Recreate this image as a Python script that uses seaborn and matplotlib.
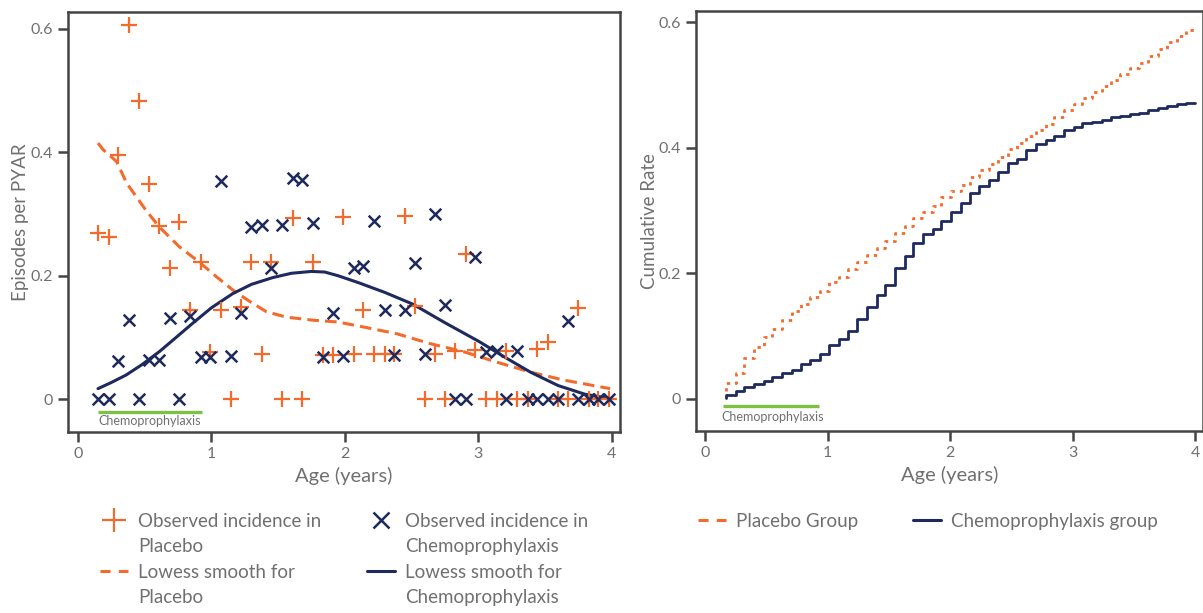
import pandas as pd
import seaborn as sns
import matplotlib.pyplot as plt
from matplotlib.lines import Line2D

# --- values ---

# left panel: observed incidence per 4-week age band
age = [0.15, 0.23, 0.30, 0.38, 0.46, 0.53, 0.61, 0.69, 0.76, 0.84,
       0.92, 0.99, 1.07, 1.15, 1.22, 1.30, 1.38, 1.45, 1.53, 1.61,
       1.68, 1.76, 1.84, 1.91, 1.99, 2.07, 2.14, 2.22, 2.30, 2.37,
       2.45, 2.53, 2.60, 2.68, 2.75, 2.83, 2.91, 2.98, 3.06, 3.14,
       3.21, 3.29, 3.37, 3.44, 3.52, 3.60, 3.67, 3.75, 3.83, 3.90, 3.98]

placebo_obs = [0.270, 0.262, 0.395, 0.607, 0.483, 0.349, 0.280, 0.212, 0.287, 0.145,
               0.222, 0.076, 0.144, 0.0, 0.149, 0.222, 0.073, 0.222, 0.0, 0.293,
               0.0, 0.222, 0.072, 0.072, 0.296, 0.073, 0.145, 0.073, 0.073, 0.073,
               0.297, 0.151, 0.0, 0.073, 0.0, 0.078, 0.235, 0.079, 0.0, 0.0,
               0.078, 0.0, 0.0, 0.082, 0.093, 0.0, 0.0, 0.147, 0.0, 0.0, 0.0]

chemo_obs = [0.0, 0.0, 0.062, 0.128, 0.0, 0.064, 0.064, 0.132, 0.0, 0.135,
             0.069, 0.069, 0.353, 0.070, 0.139, 0.279, 0.283, 0.212, 0.283, 0.358,
             0.355, 0.285, 0.069, 0.140, 0.070, 0.213, 0.215, 0.289, 0.144, 0.071,
             0.144, 0.221, 0.073, 0.300, 0.152, 0.0, 0.0, 0.230, 0.077, 0.078,
             0.0, 0.078, 0.0, 0.0, 0.0, 0.0, 0.126, 0.0, 0.0, 0.0, 0.0]

# lowess curves
lowess_placebo_x = [0.15, 0.19, 0.29, 0.365, 0.51, 0.61, 0.76, 0.91, 1.04, 1.16, 1.29,
                    1.41, 1.56, 1.76, 1.95, 2.14, 2.39, 2.64, 2.89, 3.14, 3.39, 3.64, 3.99]
lowess_placebo_y = [0.415, 0.404, 0.385, 0.350, 0.306, 0.279, 0.247, 0.222, 0.198, 0.177, 0.158,
                    0.142, 0.133, 0.128, 0.125, 0.117, 0.106, 0.090, 0.077, 0.060, 0.044, 0.031, 0.017]

lowess_chemo_x = [0.15, 0.25, 0.36, 0.48, 0.61, 0.73, 0.86, 1.0, 1.16, 1.3, 1.46, 1.6, 1.75,
                  1.85, 1.95, 2.1, 2.3, 2.51, 2.75, 3.01, 3.2, 3.39, 3.6, 3.8, 3.99]
lowess_chemo_y = [0.017, 0.027, 0.039, 0.056, 0.077, 0.099, 0.123, 0.148, 0.171, 0.186, 0.197, 0.204, 0.207,
                  0.206, 0.200, 0.189, 0.173, 0.154, 0.124, 0.093, 0.068, 0.044, 0.022, 0.008, 0.001]

# right panel: cumulative rate, one step per 4-week band
step_age = [0.17, 0.25, 0.32, 0.40, 0.48, 0.55, 0.63, 0.71, 0.78, 0.86,
            0.94, 1.01, 1.09, 1.17, 1.24, 1.32, 1.40, 1.47, 1.55, 1.63,
            1.70, 1.78, 1.86, 1.93, 2.01, 2.09, 2.16, 2.24, 2.32, 2.39,
            2.47, 2.55, 2.62, 2.70, 2.78, 2.85, 2.93, 3.01, 3.08, 3.16,
            3.24, 3.31, 3.39, 3.47, 3.54, 3.62, 3.70, 3.77, 3.85, 3.93, 4.00]

placebo_cum = [0.013,
               0.025, 0.042, 0.065, 0.082, 0.098, 0.112, 0.126, 0.140, 0.151, 0.163,
               0.172, 0.186, 0.195, 0.207, 0.218, 0.229, 0.241, 0.252, 0.265, 0.276,
               0.289, 0.298, 0.308, 0.321, 0.331, 0.341, 0.353, 0.364, 0.374, 0.386,
               0.398, 0.408, 0.419, 0.429, 0.438, 0.449, 0.461, 0.470, 0.480, 0.489,
               0.499, 0.508, 0.517, 0.527, 0.536, 0.546, 0.558, 0.568, 0.578, 0.588]

chemo_cum = [0.001,
             0.007, 0.012, 0.019, 0.023, 0.029, 0.035, 0.042, 0.046, 0.055, 0.062,
             0.071, 0.086, 0.095, 0.108, 0.127, 0.146, 0.166, 0.182, 0.208, 0.228,
             0.248, 0.262, 0.271, 0.284, 0.298, 0.312, 0.328, 0.339, 0.349, 0.361,
             0.376, 0.383, 0.397, 0.406, 0.413, 0.419, 0.429, 0.433, 0.439, 0.442,
             0.445, 0.449, 0.451, 0.454, 0.456, 0.460, 0.464, 0.467, 0.470, 0.472]

chemo_period = [0.15, 0.93]

x_ticks = [0, 1, 2, 3, 4]
y_ticks = [0, 0.2, 0.4, 0.6]
y_tick_labels = ["0", "0.2", "0.4", "0.6"]

# colours
ORANGE = "#f26b2c"
NAVY = "#1e2a5e"
GREEN = "#7cc144"
SPINE = "#444444"
TEXT = "#707070"

sns.set_theme(style="ticks")
plt.rcParams["font.family"] = ["Lato", "DejaVu Sans"]

fig = plt.figure(figsize=(12.03, 6.13), dpi=100)
ax1 = fig.add_axes([0.0565, 0.295, 0.4585, 0.685])
ax2 = fig.add_axes([0.5786, 0.297, 0.4214, 0.685])

obs = pd.DataFrame({"age": age, "placebo": placebo_obs, "chemo": chemo_obs})

# --- left panel: observed incidence + lowess ---
sns.scatterplot(data=obs, x="age", y="placebo", marker="+", s=140, color=ORANGE,
                linewidth=1.6, ax=ax1, zorder=3)
sns.scatterplot(data=obs, x="age", y="chemo", marker="x", s=70, color=NAVY,
                linewidth=1.8, ax=ax1, zorder=3)
sns.lineplot(x=lowess_placebo_x, y=lowess_placebo_y, color=ORANGE, lw=2.2,
             linestyle=(0, (3.8, 2)), errorbar=None, ax=ax1)
sns.lineplot(x=lowess_chemo_x, y=lowess_chemo_y, color=NAVY, lw=2.2,
             errorbar=None, ax=ax1)

ax1.hlines(-0.021, chemo_period[0], chemo_period[1], color=GREEN, lw=2.4)
ax1.text(chemo_period[0], -0.036, "Chemoprophylaxis", fontsize=9, color=TEXT, va="center")

ax1.set_xlim(-0.075, 4.06)
ax1.set_ylim(-0.0535, 0.627)
ax1.set_ylabel("Episodes per PYAR", fontsize=13.5, color=TEXT, labelpad=1)

# --- right panel: cumulative rate steps ---
sns.lineplot(x=step_age, y=placebo_cum, color=ORANGE, lw=2.0, linestyle=(0, (1.2, 1.8)),
             drawstyle="steps-pre", errorbar=None, ax=ax2)
sns.lineplot(x=step_age, y=chemo_cum, color=NAVY, lw=2.0,
             drawstyle="steps-pre", errorbar=None, ax=ax2)

ax2.hlines(-0.011, chemo_period[0], chemo_period[1], color=GREEN, lw=2.4)
ax2.text(chemo_period[0] - 0.02, -0.028, "Chemoprophylaxis", fontsize=9, color=TEXT, va="center")

ax2.set_xlim(-0.073, 4.065)
ax2.set_ylim(-0.051, 0.618)
ax2.set_ylabel("Cumulative Rate", fontsize=13.5, color=TEXT, labelpad=0)

for ax in (ax1, ax2):
    ax.set_xticks(x_ticks)
    ax.set_yticks(y_ticks)
    ax.set_yticklabels(y_tick_labels)
    ax.set_xlabel("Age (years)", fontsize=14.5, color=TEXT, labelpad=4)
    ax.tick_params(axis="both", length=7, width=1.8, color=SPINE, labelcolor=TEXT,
                   labelsize=11.5, pad=4)
    for s in ax.spines.values():
        s.set_color(SPINE)
        s.set_linewidth(1.8)

# --- legends ---
h_plus = Line2D([], [], marker="+", color=ORANGE, ls="none", markersize=17, markeredgewidth=1.6)
h_x = Line2D([], [], marker="x", color=NAVY, ls="none", markersize=12, markeredgewidth=1.8)
h_dash = Line2D([], [], color=ORANGE, lw=2.2, ls=(0, (3.3, 2.7)))
h_solid = Line2D([], [], color=NAVY, lw=2.2)
blank = Line2D([], [], color="none")

fig.legend([h_plus, blank, h_dash, blank, h_x, blank, h_solid, blank],
           ["Observed incidence in", "Placebo", "Lowess smooth for", "Placebo",
            "Observed incidence in", "Chemoprophylaxis", "Lowess smooth for", "Chemoprophylaxis"],
           loc="upper left", bbox_to_anchor=(100 / 1203, 1 - 513 / 613), ncol=2,
           frameon=False, fontsize=13.5, handlelength=1.5, handletextpad=0.55,
           columnspacing=2.4, labelspacing=0.45, borderpad=0, borderaxespad=0,
           labelcolor=TEXT)

fig.legend([h_dash, h_solid], ["Placebo Group", "Chemoprophylaxis group"],
           loc="upper left", bbox_to_anchor=(698 / 1203, 1 - 513 / 613), ncol=2,
           frameon=False, fontsize=13.5, handlelength=1.5, handletextpad=0.55,
           columnspacing=2.9, borderpad=0, borderaxespad=0, labelcolor=TEXT)

fig.savefig("out.png", dpi=100)
